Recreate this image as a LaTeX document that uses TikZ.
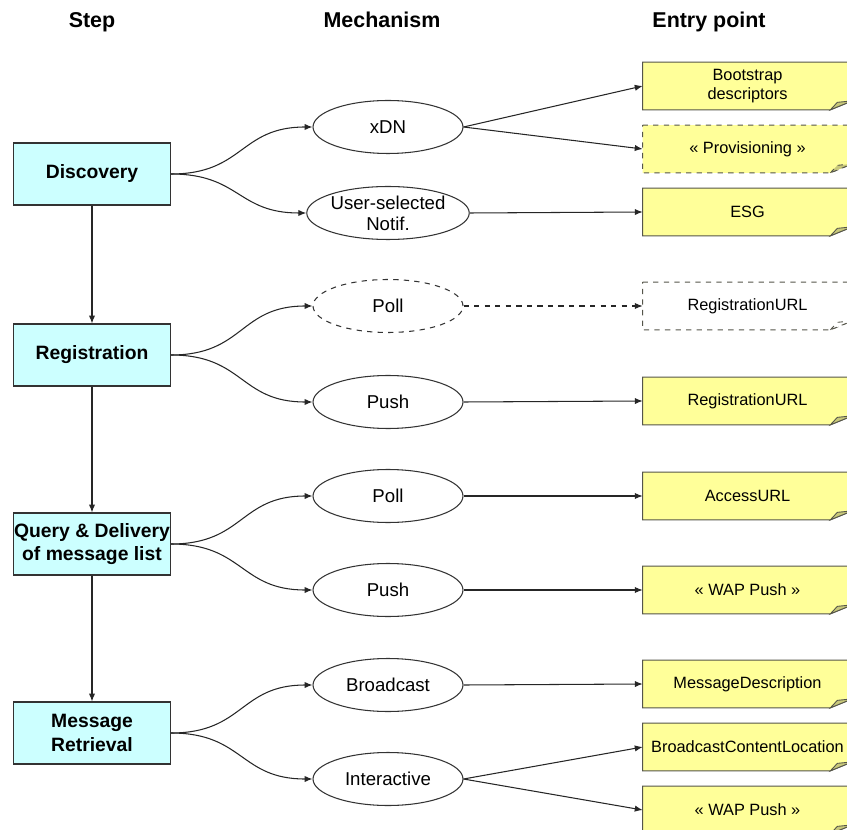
\documentclass[tikz,border=0pt]{standalone}
\usepackage{fontspec}
\setmainfont{Liberation Sans}
\usetikzlibrary{shapes.geometric,arrows.meta,backgrounds}
\definecolor{stepfill}{HTML}{CCFFFF}
\definecolor{notefill}{HTML}{FFFF99}
\definecolor{foldfill}{HTML}{C8C87A}
\definecolor{noteline}{HTML}{55554A}
\newcommand{\notebox}[2][]{%
  \path[noteshape,#1] (#2.north west) -- (#2.north east) -- ([yshift=0.18cm]#2.south east) -- ([xshift=-0.44cm]#2.south east) -- (#2.south west) -- cycle;
  \path[foldshape,#1] ([xshift=-0.44cm]#2.south east) -- ([xshift=-0.30cm,yshift=0.15cm]#2.south east) -- ([yshift=0.18cm]#2.south east) -- cycle;}
\begin{document}
\begin{tikzpicture}[x=0.02cm,y=-0.02cm,
  stepbox/.style={draw=black!80, line width=0.6pt, fill=stepfill, minimum width=3.14cm, minimum height=1.24cm, inner sep=0, align=center, font=\fontsize{11}{13.5}\selectfont\bfseries},
  mech/.style={ellipse, draw=black!80, line width=0.6pt, fill=white, minimum width=3cm, minimum height=1.06cm, inner sep=0, align=center, font=\fontsize{10.6}{12}\selectfont},
  note/.style={minimum width=4.18cm, minimum height=0.94cm, inner sep=0, align=center, font=\fontsize{9.3}{10.8}\selectfont},
  noteshape/.style={draw=noteline, line width=0.6pt, fill=notefill},
  foldshape/.style={draw=noteline, line width=0.5pt, fill=foldfill},
  head/.style={font=\fontsize{12.2}{14}\selectfont\bfseries, anchor=base},
  arr/.style={draw=black!85, line width=0.6pt, -{Latex[length=4.5pt,width=3.6pt]}},
  curv/.style={arr, out=0, in=180, looseness=1.25},
]
\clip (0,0) rectangle (847,830);
% headers
\node[head] (h1) at (92,28) {Step};
\node[head] (h2) at (382,28) {Mechanism};
\node[head] (h3) at (709,28) {Entry point};
% steps
\node[stepbox] (s1) at (92,174) {Discovery};
\node[stepbox] (s2) at (92,355) {Registration};
\node[stepbox] (s3) at (92,544) {Query \& Delivery\\of message list};
\node[stepbox] (s4) at (92,733) {Message\\Retrieval};
% mechanisms
\node[mech] (m1) at (388,127) {xDN};
\node[mech] (m2) at (388,213) {User-selected\\Notif.};
\node[mech, dashed] (m3) at (388,306) {Poll};
\node[mech] (m4) at (388,402) {Push};
\node[mech] (m5) at (388,496) {Poll};
\node[mech] (m6) at (388,590) {Push};
\node[mech] (m7) at (388,685) {Broadcast};
\node[mech] (m8) at (388,779) {Interactive};
% entry points
\node[note] (e1) at (747.5,86) {Bootstrap\\descriptors};
\node[note] (e2) at (747.5,149) {« Provisioning »};
\node[note] (e3) at (747.5,212) {ESG};
\node[note] (e4) at (747.5,306) {RegistrationURL};
\node[note] (e5) at (747.5,401) {RegistrationURL};
\node[note] (e6) at (747.5,496) {AccessURL};
\node[note] (e7) at (747.5,590) {« WAP Push »};
\node[note] (e8) at (747.5,684) {MessageDescription};
\node[note] (e9) at (747.5,747) {BroadcastContentLocation};
\node[note] (e10) at (747.5,810) {« WAP Push »};
\begin{scope}[on background layer]
\notebox{e1}
\notebox[dashed]{e2}
\notebox{e3}
\notebox[dashed, fill=white]{e4}
\notebox{e5}
\notebox{e6}
\notebox{e7}
\notebox{e8}
\notebox{e9}
\notebox{e10}
\end{scope}
% vertical arrows
\draw[arr] (s1.south) -- (s2.north);
\draw[arr] (s2.south) -- (s3.north);
\draw[arr] (s3.south) -- (s4.north);
% step to mechanism
\draw[curv] (s1.east) to (m1.west);
\draw[curv] (s1.east) to (m2.west);
\draw[curv] (s2.east) to (m3.west);
\draw[curv] (s2.east) to (m4.west);
\draw[curv] (s3.east) to (m5.west);
\draw[curv] (s3.east) to (m6.west);
\draw[curv] (s4.east) to (m7.west);
\draw[curv] (s4.east) to (m8.west);
% mechanism to entry point
\draw[arr] (m1.east) -- (e1.west);
\draw[arr] (m1.east) -- (e2.west);
\draw[arr] (m2.east) -- (e3.west);
\draw[arr, dashed] (m3.east) -- (e4.west);
\draw[arr] (m4.east) -- (e5.west);
\draw[arr] (m5.east) -- (e6.west);
\draw[arr] (m6.east) -- (e7.west);
\draw[arr] (m7.east) -- (e8.west);
\draw[arr] (m8.east) -- (e9.west);
\draw[arr] (m8.east) -- (e10.west);
\end{tikzpicture}
\end{document}
